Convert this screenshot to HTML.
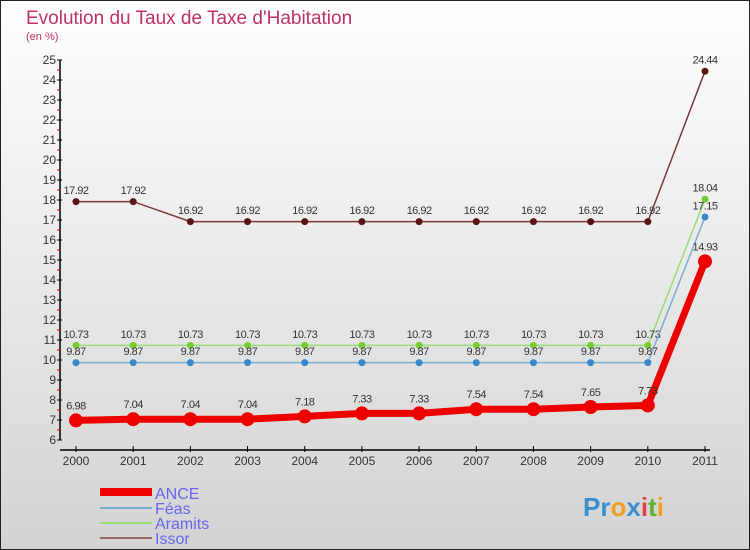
<!DOCTYPE html>
<html><head><meta charset="utf-8"><style>
body{margin:0}
svg{display:block;font-family:"Liberation Sans",sans-serif}
</style></head><body>
<svg id="chart" width="750" height="550">
<defs><linearGradient id="bg" x1="0" y1="0" x2="0" y2="1"><stop offset="0" stop-color="#ffffff"/><stop offset="1" stop-color="#d3d3d3"/></linearGradient></defs>
<rect x="0.5" y="0.5" width="749" height="549" fill="url(#bg)" stroke="#222"/>
<text x="26" y="24" font-size="19" fill="#c0306a">Evolution du Taux de Taxe d'Habitation</text>
<text x="26" y="40" font-size="11" fill="#c0306a">(en %)</text>
<g id="axes"></g><g id="series"></g>
<g>
<rect x="100" y="488" width="52" height="8" fill="#e00"/>
<text x="155" y="499" font-size="16" fill="#6666ee">ANCE</text>
<line x1="100" y1="508" x2="152" y2="508" stroke="#7aaed0" stroke-width="2"/>
<text x="155" y="514" font-size="16" fill="#6666ee">Féas</text>
<line x1="100" y1="523" x2="152" y2="523" stroke="#99dd77" stroke-width="2"/>
<text x="155" y="529" font-size="16" fill="#6666ee">Aramits</text>
<line x1="100" y1="538" x2="152" y2="538" stroke="#996666" stroke-width="2"/>
<text x="155" y="544" font-size="16" fill="#6666ee">Issor</text>
</g>
<text x="583" y="516" font-size="26" font-weight="bold"><tspan fill="#3a8fd0">Pr</tspan><tspan fill="#f0a020">o</tspan><tspan fill="#3a8fd0">x</tspan><tspan fill="#e04040">i</tspan><tspan fill="#60b030">t</tspan><tspan fill="#f0a020">i</tspan></text>
</svg>
<script>
const years=["2000","2001","2002","2003","2004","2005","2006","2007","2008","2009","2010","2011"];
const ance=[6.98,7.04,7.04,7.04,7.18,7.33,7.33,7.54,7.54,7.65,7.73,14.93];
const feas=[9.87,9.87,9.87,9.87,9.87,9.87,9.87,9.87,9.87,9.87,9.87,17.15];
const aramits=[10.73,10.73,10.73,10.73,10.73,10.73,10.73,10.73,10.73,10.73,10.73,18.04];
const issor=[17.92,17.92,16.92,16.92,16.92,16.92,16.92,16.92,16.92,16.92,16.92,24.44];
const yTicks=[6,7,8,9,10,11,12,13,14,15,16,17,18,19,20,21,22,23,24,25];
const NS="http://www.w3.org/2000/svg";
const yMin=6,yMax=25,yTop=60,yBot=440;
function y(v){return yBot-(v-yMin)/(yMax-yMin)*(yBot-yTop);}
function x(i){return 76+i*(705-76)/(years.length-1);}
function mk(tag,attrs,parent){const e=document.createElementNS(NS,tag);for(const k in attrs)e.setAttribute(k,attrs[k]);parent.appendChild(e);return e;}
const ax=document.getElementById('axes');
let l=mk('line',{x1:60,y1:yTop,x2:60,y2:yBot,stroke:'#000','stroke-width':1.5},ax);


l=mk('line',{x1:60,y1:450,x2:710,y2:450,stroke:'#000','stroke-width':1.5},ax);


yTicks.forEach((t,i)=>{
 const tk=mk('line',{x1:57,y1:y(t),x2:62,y2:y(t),stroke:'#000'},ax);
 
 
 if(i<yTicks.length-1){const m=mk('line',{x1:57,y1:y(t+0.5),x2:60,y2:y(t+0.5),stroke:'#e00'},ax);
 
 }
 const tx=mk('text',{x:56,y:y(t)+4,'font-size':12,fill:'#333','text-anchor':'end'},ax);tx.textContent=t;
 
 
});
years.forEach((yr,i)=>{
 const tk=mk('line',{x1:x(i),y1:446,x2:x(i),y2:452,stroke:'#000'},ax);
 
 
 const tx=mk('text',{x:x(i),y:465,'font-size':12,fill:'#333','text-anchor':'middle'},ax);tx.textContent=yr;
 
 
});
const sg=document.getElementById('series');
function draw(vals,name,color,dot,w,r){
 const g=mk('g',{},sg);
 
 
 const p=mk('polyline',{points:vals.map((v,i)=>x(i)+','+y(v)).join(' '),fill:'none',stroke:color,'stroke-width':w},g);
 
 
 vals.forEach((v,i)=>{
  const c=mk('circle',{cx:x(i),cy:y(v),r:r,fill:dot},g);
  
  
  const t=mk('text',{x:x(i),y:y(v)-r-4,'font-size':11,fill:'#333','text-anchor':'middle','letter-spacing':'-0.5'},g);
  t.textContent=v.toFixed(2).replace(/0$/,'').replace(/\.$/,'');
  if(v.toFixed(2).endsWith('0'))t.textContent=v.toFixed(2);
  
  
 });
}
draw(issor,'issor','#7a3a3a','#5a1515',1.5,3.5);
draw(aramits,'aramits','#99dd77','#77cc33',1.5,3.5);
draw(feas,'feas','#7aaed0','#3a88c8',1.5,3.5);
draw(ance,'ance','#ee0000','#ee0000',7,7);
</script>
</body></html>
